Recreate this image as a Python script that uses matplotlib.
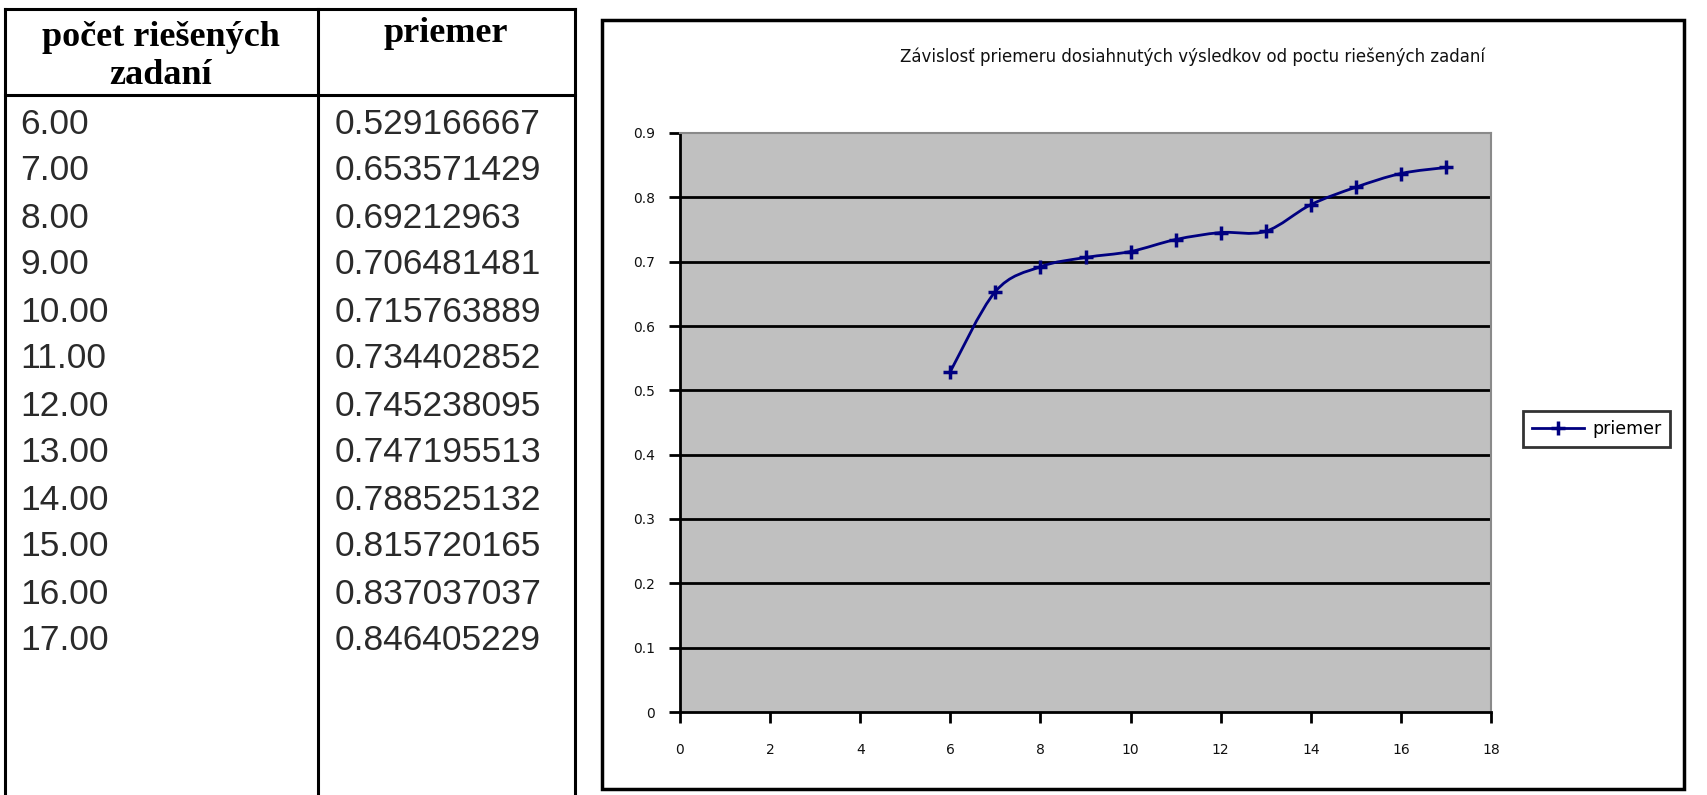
import matplotlib
matplotlib.use("Agg")
import matplotlib.pyplot as plt
import numpy as np
from matplotlib.path import Path
from matplotlib.patches import PathPatch, Rectangle
from matplotlib.lines import Line2D

# Data
counts = [6, 7, 8, 9, 10, 11, 12, 13, 14, 15, 16, 17]
averages = [0.529166667, 0.653571429, 0.69212963, 0.706481481, 0.715763889,
            0.734402852, 0.745238095, 0.747195513, 0.788525132, 0.815720165,
            0.837037037, 0.846405229]
header_left = "počet riešených\nzadaní"
header_right = "priemer"
series_name = "priemer"
chart_title = "Závislosť priemeru dosiahnutých výsledkov od poctu riešených zadaní"
x_ticks = [0, 2, 4, 6, 8, 10, 12, 14, 16, 18]
y_ticks = [0, 0.1, 0.2, 0.3, 0.4, 0.5, 0.6, 0.7, 0.8, 0.9]

W, H = 1707, 795
fig = plt.figure(figsize=(W / 100, H / 100), dpi=100)
fig.patch.set_facecolor("white")

# Full-figure canvas in pixel units for the table and chart frame
bg = fig.add_axes([0, 0, 1, 1])
bg.set_xlim(0, W)
bg.set_ylim(H, 0)
bg.axis("off")

lw = 2.2
# table outline
bg.plot([5, 575], [9, 9], color="black", lw=lw)
bg.plot([5, 575], [95, 95], color="black", lw=lw)
for xv in (5, 318, 575):
    bg.plot([xv, xv], [9, 800], color="black", lw=lw)

bg.text(161, 57, header_left, ha="center", va="center", fontsize=26,
        family="Liberation Serif", fontweight="bold", linespacing=1.2)
bg.text(446, 34, header_right, ha="center", va="center", fontsize=26,
        family="Liberation Serif", fontweight="bold")

row_y0, row_dy = 124, 47.0
for i, (c, v) in enumerate(zip(counts, averages)):
    y = row_y0 + i * row_dy
    bg.text(20, y, f"{c:.2f}", ha="left", va="center", fontsize=25.5,
            family="Liberation Sans", color="#2a2a2a")
    bg.text(335, y, format(v, ".9g"), ha="left", va="center", fontsize=25.5,
            family="Liberation Sans", color="#2a2a2a")

# chart frame
bg.add_patch(Rectangle((602, 20), 1684 - 602, 769 - 20 + 20, fill=False,
                       edgecolor="black", lw=2.5))
bg.text(1193, 57, chart_title, ha="center", va="center", fontsize=12,
        color="#111111")

# plot area
px0, px1, py0, py1 = 680, 1491, 133, 712
ax = fig.add_axes([px0 / W, 1 - py1 / H, (px1 - px0) / W, (py1 - py0) / H])
ax.set_facecolor("#c0c0c0")
ax.set_xlim(0, 18)
ax.set_ylim(0, 0.9)
ax.set_xticks(x_ticks)
ax.set_yticks(y_ticks)
ax.set_xticklabels([str(t) for t in x_ticks])
ax.set_yticklabels(["0"] + [f"{t:.1f}" for t in y_ticks[1:]])
for t in y_ticks[1:-1]:
    ax.axhline(t, color="black", lw=2, zorder=1)
for side in ("top", "right"):
    ax.spines[side].set_color("#8a8a8a")
    ax.spines[side].set_linewidth(1.5)
for side in ("left", "bottom"):
    ax.spines[side].set_color("black")
    ax.spines[side].set_linewidth(2)
ax.tick_params(axis="both", direction="out", length=8, width=2, color="black",
               labelsize=10, labelcolor="#111111")
ax.tick_params(axis="x", pad=14)
ax.tick_params(axis="y", pad=10)

# smoothed line through the data points (cubic Bezier segments)
xs = np.array(counts, dtype=float)
ys = np.array(averages, dtype=float)
verts = [(xs[0], ys[0])]
codes = [Path.MOVETO]
n = len(xs)
for i in range(n - 1):
    p0 = np.array([xs[max(i - 1, 0)], ys[max(i - 1, 0)]])
    p1 = np.array([xs[i], ys[i]])
    p2 = np.array([xs[i + 1], ys[i + 1]])
    p3 = np.array([xs[min(i + 2, n - 1)], ys[min(i + 2, n - 1)]])
    c1 = p1 + (p2 - p0) / 6.0
    c2 = p2 - (p3 - p1) / 6.0
    verts += [tuple(c1), tuple(c2), tuple(p2)]
    codes += [Path.CURVE4, Path.CURVE4, Path.CURVE4]
ax.add_patch(PathPatch(Path(verts, codes), facecolor="none",
                       edgecolor="#000080", lw=2, zorder=3))
ax.plot(xs, ys, linestyle="none", marker="+", markersize=10, mew=2.5,
        color="#000080", zorder=4)

handle = Line2D([], [], color="#000080", lw=2, marker="+", markersize=10, mew=2.5)
leg = ax.legend([handle], [series_name], loc="center left",
                bbox_to_anchor=(1523 / W, 1 - 429 / H),
                bbox_transform=fig.transFigure, fontsize=12.5, frameon=True,
                fancybox=False, handlelength=3.0, borderpad=0.5,
                handletextpad=0.5, borderaxespad=0)
leg.get_frame().set_edgecolor("black")
leg.get_frame().set_linewidth(2)

fig.savefig("out.png", dpi=100)
